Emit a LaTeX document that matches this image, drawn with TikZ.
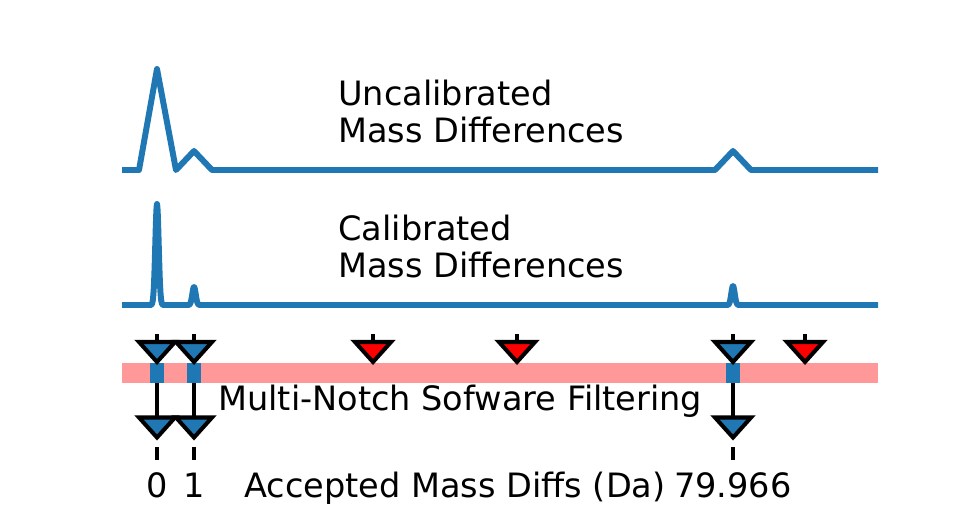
\documentclass[tikz,border=0pt]{standalone}
\usepackage{fontspec}
\setmainfont{DejaVu Sans}
\usetikzlibrary{positioning}
\definecolor{mplblue}{HTML}{1F77B4}
\definecolor{notchpink}{HTML}{FF9999}
\definecolor{rejred}{HTML}{FF0000}

\begin{document}
\begin{tikzpicture}[x=0.02cm, y=-0.02cm,
    every node/.style={font=\fontsize{19.1}{21.3}\selectfont, inner sep=0pt},
    spec/.style={mplblue, line width=3.4pt, line join=round},
    stem/.style={black, line width=2.6pt},
    tri/.style={draw=black, line width=2.3pt, line join=miter},
    lbl/.style={anchor=base west, align=left}
]
    \useasboundingbox (0,0) rectangle (975,525);
    % spectrum 1: before calibration
    \draw[spec] (122,170) -- (139,170) -- (157,69) -- (176,170) -- (194,151) -- (212,170)
        -- (715,170) -- (733,151) -- (751,170) -- (878,170);
    \node[lbl] (uncal) at (338,142.7) {Uncalibrated\\Mass Differences};
    % spectrum 2: after calibration -> sharp peaks
    \draw[spec] (122,305) -- (149,305)
        -- plot[domain=149:165, samples=41] (\x,{305-101*exp(-0.5*((\x-157)/1.7)^2)})
        -- (186,305)
        -- plot[domain=186:202, samples=41] (\x,{305-18*exp(-0.5*((\x-194)/1.7)^2)})
        -- (725,305)
        -- plot[domain=725:741, samples=41] (\x,{305-19*exp(-0.5*((\x-733)/1.7)^2)})
        -- (878,305);
    \node[lbl] (cal) at (338,277.7) {Calibrated\\Mass Differences};
    % stems: accepted pass through, rejected stop
    \foreach \x/\n in {157/a, 194/b, 733/c} {
        \coordinate (in\n) at (\x,334);
        \coordinate (out\n) at (\x,417);
        \draw[stem] (in\n) -- (out\n);
    }
    \foreach \x/\n in {373/d, 517/e, 805/f} {
        \coordinate (in\n) at (\x,334);
        \coordinate (stop\n) at (\x,342);
        \draw[stem] (in\n) -- (stop\n);
    }
    % notch filter band
    \fill[notchpink] (122,363) rectangle (878,383);
    \foreach \x in {157, 194, 733}
        \fill[mplblue] (\x-7,363) rectangle (\x+7,383);
    \node[lbl] (filt) at (218,410) {Multi-Notch Sofware Filtering};
    % markers
    \foreach \x in {157, 194, 733} {
        \draw[tri, fill=mplblue] (\x-18,342) -- (\x+18,342) -- (\x,362) -- cycle;
        \draw[tri, fill=mplblue] (\x-18,417.5) -- (\x+18,417.5) -- (\x,437.5) -- cycle;
        \draw[stem] (\x,447) -- (\x,460);
    }
    \foreach \x in {373, 517, 805}
        \draw[tri, fill=rejred] (\x-18,342) -- (\x+18,342) -- (\x,362) -- cycle;
    % accepted values
    \node[anchor=base] (v0) at (157,497) {0};
    \node[anchor=base] (v1) at (194,497) {1};
    \node[anchor=base] (v80) at (733,497) {79.966};
    \node[lbl] (acc) at (244,497) {Accepted Mass Diffs (Da)};
\end{tikzpicture}
\end{document}
